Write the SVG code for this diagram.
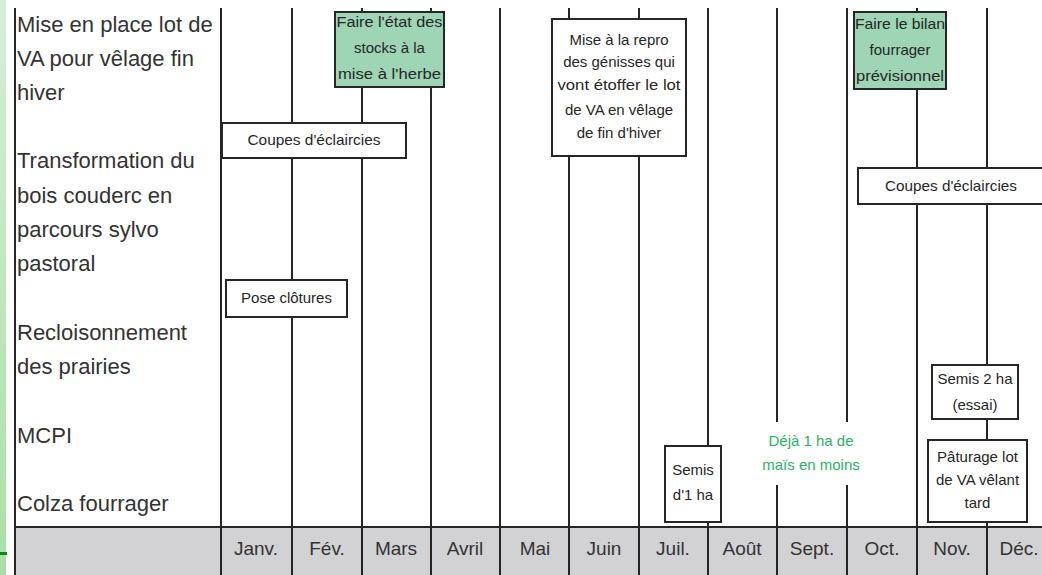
<svg xmlns="http://www.w3.org/2000/svg" width="1042" height="575" viewBox="0 0 1042 575">
<defs>
<linearGradient id="strip" x1="0" y1="0" x2="0" y2="1">
<stop offset="0" stop-color="#d6eed6"/>
<stop offset="1" stop-color="#a9dfa6"/>
</linearGradient>
</defs>
<style>
.grid{stroke:#262626;stroke-width:2;fill:none}
.box{fill:#ffffff;stroke:#262626;stroke-width:2}
.gbox{fill:#9dd5b5;stroke:#262626;stroke-width:2}
.row{font-family:"Liberation Sans",Arial,sans-serif;font-size:22px;fill:#333333}
.month{font-family:"Liberation Sans",Arial,sans-serif;font-size:19px;fill:#333333;text-anchor:middle}
.bt{font-family:"Liberation Sans",Arial,sans-serif;font-size:15px;fill:#262626;text-anchor:middle}
.gt{font-family:"Liberation Sans",Arial,sans-serif;font-size:15px;fill:#2bb365;text-anchor:middle}
</style>
<rect x="0" y="0" width="1042" height="575" fill="#ffffff"/>
<rect x="0" y="0" width="6" height="575" fill="url(#strip)"/>
<rect x="0" y="552" width="7" height="3" fill="#0a8a14"/>
<rect x="15" y="527" width="1027" height="48" fill="#d2d2d4"/>

<g id="grid" class="grid">
<line x1="15" y1="8" x2="15" y2="575"/>
<line x1="15" y1="527" x2="1042" y2="527"/>
<line x1="221" y1="8" x2="221" y2="575"/>
<line x1="292" y1="8" x2="292" y2="575"/>
<line x1="362" y1="8" x2="362" y2="575"/>
<line x1="431" y1="8" x2="431" y2="575"/>
<line x1="500" y1="8" x2="500" y2="575"/>
<line x1="569" y1="8" x2="569" y2="575"/>
<line x1="639" y1="8" x2="639" y2="575"/>
<line x1="708" y1="8" x2="708" y2="575"/>
<line x1="777" y1="8" x2="777" y2="422"/>
<line x1="777" y1="485" x2="777" y2="575"/>
<line x1="847" y1="8" x2="847" y2="422"/>
<line x1="847" y1="485" x2="847" y2="575"/>
<line x1="917" y1="8" x2="917" y2="575"/>
<line x1="987" y1="8" x2="987" y2="575"/>
</g>

<g id="row-labels">
<text class="row" x="17" y="32">Mise en place lot de</text>
<text class="row" x="17" y="66">VA pour vêlage fin</text>
<text class="row" x="17" y="100">hiver</text>
<text class="row" x="17" y="168">Transformation du</text>
<text class="row" x="17" y="203">bois couderc en</text>
<text class="row" x="17" y="237">parcours sylvo</text>
<text class="row" x="17" y="271">pastoral</text>
<text class="row" x="17" y="340">Recloisonnement</text>
<text class="row" x="17" y="374">des prairies</text>
<text class="row" x="17" y="443">MCPI</text>
<text class="row" x="17" y="511">Colza fourrager</text>
</g>

<g id="months">
<text class="month" x="256" y="555">Janv.</text>
<text class="month" x="327" y="555">Fév.</text>
<text class="month" x="396" y="555">Mars</text>
<text class="month" x="465" y="555">Avril</text>
<text class="month" x="535" y="555">Mai</text>
<text class="month" x="604" y="555">Juin</text>
<text class="month" x="673" y="555">Juil.</text>
<text class="month" x="742" y="555">Août</text>
<text class="month" x="812" y="555">Sept.</text>
<text class="month" x="882" y="555">Oct.</text>
<text class="month" x="952" y="555">Nov.</text>
<text class="month" x="1019" y="555">Déc.</text>
</g>

<g id="node-stocks">
<rect class="gbox" x="335" y="12" width="109" height="75"/>
<text class="bt" x="389.5" y="27" textLength="106" lengthAdjust="spacingAndGlyphs">Faire l'état des</text>
<text class="bt" x="389.5" y="53">stocks à la</text>
<text class="bt" x="389.5" y="79" textLength="103" lengthAdjust="spacingAndGlyphs">mise à l'herbe</text>
</g>

<g id="node-repro">
<rect class="box" x="552" y="19" width="134" height="137"/>
<text class="bt" x="619" y="45">Mise à la repro</text>
<text class="bt" x="619" y="67">des génisses qui</text>
<text class="bt" x="619" y="90" textLength="123" lengthAdjust="spacingAndGlyphs">vont étoffer le lot</text>
<text class="bt" x="619" y="115">de VA en vêlage</text>
<text class="bt" x="619" y="138">de fin d'hiver</text>
</g>

<g id="node-bilan">
<rect class="gbox" x="854" y="12" width="92" height="77"/>
<text class="bt" x="900" y="29" textLength="90" lengthAdjust="spacingAndGlyphs">Faire le bilan</text>
<text class="bt" x="900" y="55">fourrager</text>
<text class="bt" x="900" y="81" textLength="88" lengthAdjust="spacingAndGlyphs">prévisionnel</text>
</g>

<g id="node-coupes-1">
<rect class="box" x="222" y="123" width="184" height="35"/>
<text class="bt" x="314" y="145" textLength="133" lengthAdjust="spacingAndGlyphs">Coupes d'éclaircies</text>
</g>

<g id="node-coupes-2">
<rect class="box" x="858" y="168" width="190" height="36"/>
<text class="bt" x="951" y="191" textLength="132" lengthAdjust="spacingAndGlyphs">Coupes d'éclaircies</text>
</g>

<g id="node-clotures">
<rect class="box" x="226" y="280" width="121" height="37"/>
<text class="bt" x="286.5" y="303">Pose clôtures</text>
</g>

<g id="node-semis-1ha">
<rect class="box" x="665" y="446" width="56" height="76"/>
<text class="bt" x="693" y="475">Semis</text>
<text class="bt" x="693" y="500">d'1 ha</text>
</g>

<g id="node-mais">
<rect x="770" y="424" width="84" height="59" fill="#ffffff"/>
<text class="gt" x="811" y="446">Déjà 1 ha de</text>
<text class="gt" x="811" y="470">maïs en moins</text>
</g>

<g id="node-semis-2ha">
<rect class="box" x="932" y="365" width="86" height="54"/>
<text class="bt" x="975" y="384">Semis 2 ha</text>
<text class="bt" x="975" y="410">(essai)</text>
</g>

<g id="node-paturage">
<rect class="box" x="928" y="440" width="99" height="82"/>
<text class="bt" x="977.5" y="462">Pâturage lot</text>
<text class="bt" x="977.5" y="485">de VA vêlant</text>
<text class="bt" x="977.5" y="508">tard</text>
</g>
</svg>
